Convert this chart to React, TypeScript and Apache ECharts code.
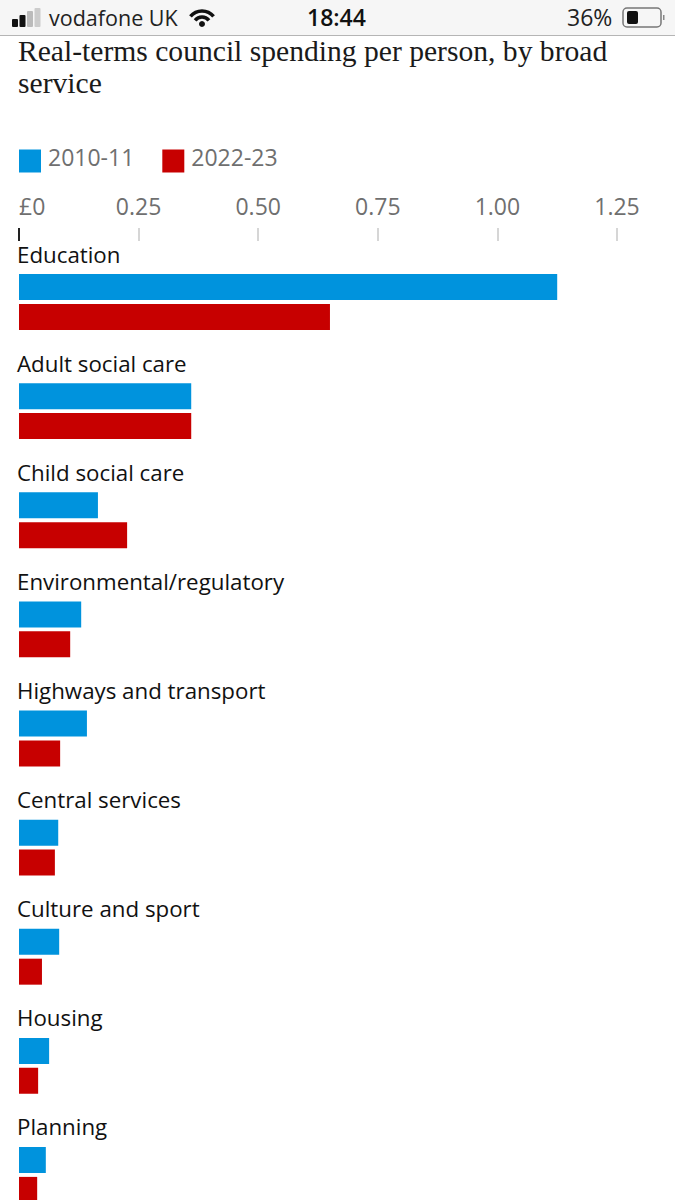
import React, { useEffect, useRef } from "react";
import * as echarts from "echarts";

const categories = ["Education", "Adult social care", "Child social care", "Environmental/regulatory", "Highways and transport", "Central services", "Culture and sport", "Housing", "Planning"];
const values2010 = [1.125, 0.36, 0.165, 0.13, 0.142, 0.082, 0.084, 0.063, 0.056];
const values2022 = [0.65, 0.36, 0.226, 0.107, 0.086, 0.075, 0.048, 0.04, 0.038];
const ticks = [0, 0.25, 0.5, 0.75, 1, 1.25];
const titleText = "Real-terms council spending per person, by broad\nservice";
const BLUE = "#0093dd";
const RED = "#c70000";
const sans = "'Open Sans', 'Noto Sans', sans-serif";

export default function App() {
  const ref = useRef<HTMLDivElement>(null);
  useEffect(() => {
    document.body.style.margin = "0";
    const chart = echarts.init(ref.current!, undefined, { renderer: "svg" });
    const signal = [[12, 19, 6, 8, "#111"], [19.5, 15, 6, 12, "#111"], [27, 11, 6, 16, "#bbb"], [34.5, 8, 6, 19, "#ccc"]].map(([x, y, w, h, c]) => ({ type: "rect", z: 91, shape: { x, y, width: w, height: h, r: 1 }, style: { fill: c as string } }));
    chart.setOption({
      animation: false,
      backgroundColor: "#ffffff",
      title: {
        text: titleText, left: 13, top: 30,
        textStyle: { fontFamily: "'Liberation Serif', serif", fontWeight: "normal", fontSize: 29.6, lineHeight: 32, color: "#1a1a1a" },
      },
      legend: {
        left: 14, top: 140, itemWidth: 22, itemHeight: 23, itemGap: 28, icon: "rect", selectedMode: false,
        formatter: "{a|{name}}",
        textStyle: {
          fontFamily: sans, fontSize: 23, color: "#6f6f6f",
          rich: { a: { fontFamily: sans, fontSize: 23, color: "#6f6f6f", padding: [0, 0, 9, 2] } },
        },
        data: ["2010-11", "2022-23"],
      },
      grid: { left: 19, top: 247.5, width: 598, height: 982, outerBoundsMode: "none" },
      xAxis: [
        {
          type: "value", position: "top", min: 0, max: 1.25, interval: 0.25, offset: 6.5,
          splitLine: { show: false }, axisLine: { show: false },
          axisTick: { show: true, length: 13, lineStyle: { color: "#c8c8c8", width: 1.5 }, customValues: ticks.slice(1) },
          axisLabel: {
            show: true, margin: 24, fontFamily: sans, fontSize: 23, color: "#6f6f6f", alignMinLabel: "left",
            customValues: ticks,
            formatter: (v: number) => (v === 0 ? "£0" : v.toFixed(2)),
          },
        },
        {
          type: "value", position: "top", min: 0, max: 1.25, interval: 1.25, offset: 6.5,
          splitLine: { show: false }, axisLine: { show: false }, axisLabel: { show: false },
          axisTick: { show: true, length: 13, lineStyle: { color: "#222", width: 2 }, customValues: [0] },
        },
      ],
      yAxis: {
        type: "category", inverse: true, data: categories,
        axisLine: { show: false }, axisTick: { show: false },
        axisLabel: {
          inside: true, margin: -2, align: "left", verticalAlign: "bottom", lineHeight: 96,
          fontFamily: sans, fontSize: 22.3, color: "#111",
        },
      },
      series: [
        { name: "2010-11", type: "bar", data: values2010, barWidth: 26, barGap: "15%", itemStyle: { color: BLUE }, z: 1 },
        { name: "2022-23", type: "bar", data: values2022, barWidth: 26, barGap: "15%", itemStyle: { color: RED }, z: 1 },
      ],
      graphic: [
        { type: "rect", z: 90, shape: { x: 0, y: 0, width: 675, height: 35 }, style: { fill: "#f6f6f6" } },
        { type: "rect", z: 90, shape: { x: 0, y: 35, width: 675, height: 1 }, style: { fill: "#b5b5b5" } },
        ...signal,
        { type: "text", z: 91, x: 49, y: 6, style: { text: "vodafone UK", fontFamily: sans, fontSize: 21.5, fill: "#222" } },
        { type: "arc", z: 91, shape: { cx: 202, cy: 26, r: 15, startAngle: -2.45, endAngle: -0.69 }, style: { stroke: "#111", lineWidth: 3.5, fill: "none" } },
        { type: "arc", z: 91, shape: { cx: 202, cy: 26, r: 9, startAngle: -2.45, endAngle: -0.69 }, style: { stroke: "#111", lineWidth: 3.5, fill: "none" } },
        { type: "circle", z: 91, shape: { cx: 202, cy: 24, r: 3 }, style: { fill: "#111" } },
        { type: "text", z: 91, x: 307, y: 5, style: { text: "18:44", fontFamily: sans, fontSize: 23, fontWeight: 600, fill: "#111" } },
        { type: "text", z: 91, x: 567, y: 5, style: { text: "36%", fontFamily: sans, fontSize: 23, fill: "#222" } },
        { type: "rect", z: 91, shape: { x: 623, y: 8, width: 38, height: 19, r: 4 }, style: { fill: "none", stroke: "#777", lineWidth: 1.5 } },
        { type: "rect", z: 91, shape: { x: 627, y: 11, width: 11, height: 13, r: 2 }, style: { fill: "#111" } },
        { type: "rect", z: 91, shape: { x: 663, y: 15, width: 1.5, height: 5 }, style: { fill: "#888" } },
      ],
    });
    return () => chart.dispose();
  }, []);
  return <div ref={ref} style={{ width: 675, height: 1200, overflow: "hidden" }} />;
}
